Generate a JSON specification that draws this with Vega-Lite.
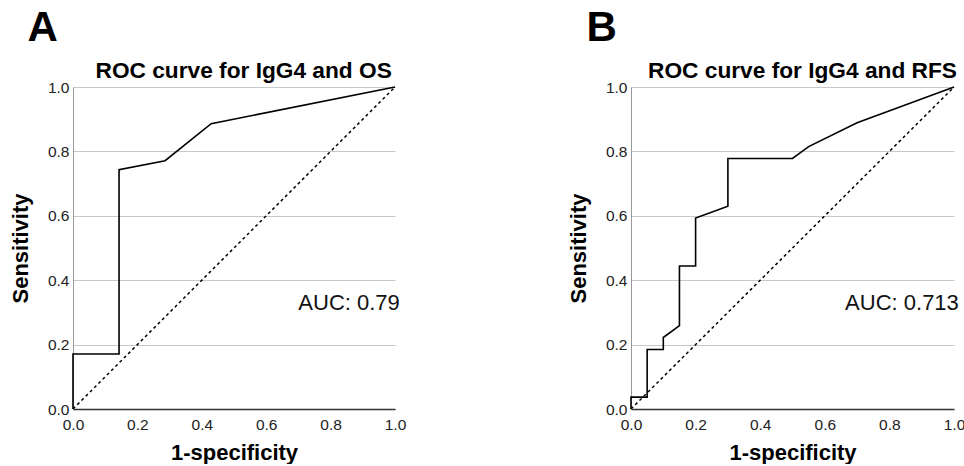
{
  "$schema": "https://vega.github.io/schema/vega-lite/v6.json",
  "background": "white",
  "padding": {"left": 9, "top": 6, "right": 0, "bottom": 0},
  "spacing": 161,
  "datasets": {
    "rocA": [
      {"i": 0, "fpr": 0, "tpr": 0},
      {"i": 1, "fpr": 0, "tpr": 0.171},
      {"i": 2, "fpr": 0.143, "tpr": 0.171},
      {"i": 3, "fpr": 0.143, "tpr": 0.743},
      {"i": 4, "fpr": 0.286, "tpr": 0.771},
      {"i": 5, "fpr": 0.429, "tpr": 0.886},
      {"i": 6, "fpr": 1, "tpr": 1}
    ],
    "rocB": [
      {"i": 0, "fpr": 0, "tpr": 0},
      {"i": 1, "fpr": 0, "tpr": 0.037},
      {"i": 2, "fpr": 0.05, "tpr": 0.037},
      {"i": 3, "fpr": 0.05, "tpr": 0.185},
      {"i": 4, "fpr": 0.1, "tpr": 0.185},
      {"i": 5, "fpr": 0.1, "tpr": 0.222},
      {"i": 6, "fpr": 0.15, "tpr": 0.259},
      {"i": 7, "fpr": 0.15, "tpr": 0.444},
      {"i": 8, "fpr": 0.2, "tpr": 0.444},
      {"i": 9, "fpr": 0.2, "tpr": 0.593},
      {"i": 10, "fpr": 0.3, "tpr": 0.63},
      {"i": 11, "fpr": 0.3, "tpr": 0.778},
      {"i": 12, "fpr": 0.5, "tpr": 0.778},
      {"i": 13, "fpr": 0.55, "tpr": 0.815},
      {"i": 14, "fpr": 0.7, "tpr": 0.889},
      {"i": 15, "fpr": 1, "tpr": 1}
    ],
    "diag": [{"i": 0, "fpr": 0, "tpr": 0}, {"i": 1, "fpr": 1, "tpr": 1}],
    "headA": [{"fpr": 0.53, "tpr": 1.028, "label": "ROC curve for IgG4 and OS"}],
    "headB": [{"fpr": 0.531, "tpr": 1.028, "label": "ROC curve for IgG4 and RFS"}],
    "aucA": [{"fpr": 1.015, "tpr": 0.33, "label": "AUC: 0.79"}],
    "aucB": [{"fpr": 1.015, "tpr": 0.33, "label": "AUC: 0.713"}]
  },
  "hconcat": [
    {
      "width": 322,
      "height": 322,
      "title": {"text": "A", "dx": 18},
      "layer": [
        {
          "data": {"name": "diag"},
          "mark": {"type": "line", "color": "black", "strokeWidth": 1.5, "strokeDash": [3, 3]},
          "encoding": {
            "x": {"field": "fpr", "type": "quantitative", "scale": {"domain": [0, 1]}, "title": "1-specificity"},
            "y": {"field": "tpr", "type": "quantitative", "scale": {"domain": [0, 1]}, "title": "Sensitivity"},
            "order": {"field": "i"}
          }
        },
        {
          "data": {"name": "rocA"},
          "mark": {"type": "line", "color": "black", "strokeWidth": 1.6},
          "encoding": {
            "x": {"field": "fpr", "type": "quantitative"},
            "y": {"field": "tpr", "type": "quantitative"},
            "order": {"field": "i"}
          }
        },
        {
          "data": {"name": "aucA"},
          "mark": {"type": "text", "align": "right", "baseline": "middle", "fontSize": 22, "color": "#111"},
          "encoding": {
            "x": {"field": "fpr", "type": "quantitative"},
            "y": {"field": "tpr", "type": "quantitative"},
            "text": {"field": "label"}
          }
        },
        {
          "data": {"name": "headA"},
          "mark": {"type": "text", "align": "center", "baseline": "alphabetic", "fontSize": 22.7, "fontWeight": "bold", "color": "black"},
          "encoding": {
            "x": {"field": "fpr", "type": "quantitative"},
            "y": {"field": "tpr", "type": "quantitative"},
            "text": {"field": "label"}
          }
        }
      ]
    },
    {
      "width": 323,
      "height": 322,
      "title": {"text": "B", "dx": 19},
      "layer": [
        {
          "data": {"name": "diag"},
          "mark": {"type": "line", "color": "black", "strokeWidth": 1.5, "strokeDash": [3, 3]},
          "encoding": {
            "x": {"field": "fpr", "type": "quantitative", "scale": {"domain": [0, 1]}, "title": "1-specificity"},
            "y": {"field": "tpr", "type": "quantitative", "scale": {"domain": [0, 1]}, "title": "Sensitivity"},
            "order": {"field": "i"}
          }
        },
        {
          "data": {"name": "rocB"},
          "mark": {"type": "line", "color": "black", "strokeWidth": 1.6},
          "encoding": {
            "x": {"field": "fpr", "type": "quantitative"},
            "y": {"field": "tpr", "type": "quantitative"},
            "order": {"field": "i"}
          }
        },
        {
          "data": {"name": "aucB"},
          "mark": {"type": "text", "align": "right", "baseline": "middle", "fontSize": 22, "color": "#111"},
          "encoding": {
            "x": {"field": "fpr", "type": "quantitative"},
            "y": {"field": "tpr", "type": "quantitative"},
            "text": {"field": "label"}
          }
        },
        {
          "data": {"name": "headB"},
          "mark": {"type": "text", "align": "center", "baseline": "alphabetic", "fontSize": 22.7, "fontWeight": "bold", "color": "black"},
          "encoding": {
            "x": {"field": "fpr", "type": "quantitative"},
            "y": {"field": "tpr", "type": "quantitative"},
            "text": {"field": "label"}
          }
        }
      ]
    }
  ],
  "config": {
    "font": "Liberation Sans",
    "view": {"stroke": null},
    "title": {"fontSize": 42, "fontWeight": "bold", "color": "black", "anchor": "start", "baseline": "alphabetic", "offset": 10},
    "axis": {
      "labelFontSize": 15.5,
      "labelColor": "#222",
      "titleFontSize": 22,
      "titleFontWeight": "bold",
      "titleColor": "black",
      "ticks": false,
      "tickCount": 5,
      "labelFlush": false,
      "format": ".1f"
    },
    "axisX": {"grid": false, "domainColor": "#333", "domainWidth": 1.5, "labelPadding": 8, "titlePadding": 10},
    "axisY": {"grid": true, "gridColor": "#c8c8c8", "gridWidth": 1.2, "domainColor": "#999", "labelPadding": 4, "titlePadding": 15}
  }
}
